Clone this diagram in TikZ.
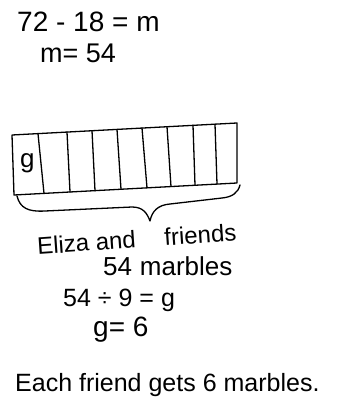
\documentclass[tikz,border=0pt]{standalone}
\usepackage{fontspec}
\setmainfont{Liberation Sans}
\begin{document}
\begin{tikzpicture}[x=1pt,y=-1pt,
  hand/.style={line width=1.3pt,line cap=round,line join=round,black},
  txt/.style={inner sep=0pt,anchor=west,font=\fontsize{26}{28}\selectfont}]
\useasboundingbox (0,0) rectangle (340,404);
\fill[white] (0,0) rectangle (340,404);
% equations
\node[txt,font=\fontsize{28}{30}\selectfont] (e1) at (17,22) {72 - 18 = m};
\node[txt,font=\fontsize{27}{30}\selectfont] (e2) at (40,53) {m= 54};
% tape
\coordinate (tl) at (12,135);
\coordinate (tr) at (237,123);
\coordinate (br) at (237,183);
\coordinate (bl) at (14,195);
\draw[hand] (tl) -- (tr) -- (br) -- (bl) -- cycle;
\foreach \a/\b in {38/44,67/70,92/95,117/121,142/147,167/171,193/195,215/217}{
  \draw[hand] (\a,{135-12*(\a-12)/225}) -- (\b,{195-12*(\b-14)/223});
}
\node[txt] (g) at (20,163) {g};
% brace
\draw[hand] (17,196) .. controls (20,208) and (28,212) .. (45,211)
  -- (132,207) .. controls (143,207) and (147,213) .. (150,221)
  .. controls (152,211) and (158,205) .. (170,204)
  -- (222,198) .. controls (232,197) and (238,193) .. (240,185);
% labels
\node[txt,rotate=4,font=\fontsize{24}{26}\selectfont] (l1) at (37,246) {Eliza and\hspace{1.2em}friends};
\node[txt] (l2) at (103,266) {54\hspace{0.3em}marbles};
\node[txt,font=\fontsize{25}{27}\selectfont] (d1) at (63,300) {54 ÷ 9 = g};
\node[txt,font=\fontsize{28}{30}\selectfont] (d2) at (93,330) {g= 6};
\node[txt,font=\fontsize{25}{27}\selectfont] (ans) at (15,385) {Each friend gets 6 marbles.};
\end{tikzpicture}
\end{document}
